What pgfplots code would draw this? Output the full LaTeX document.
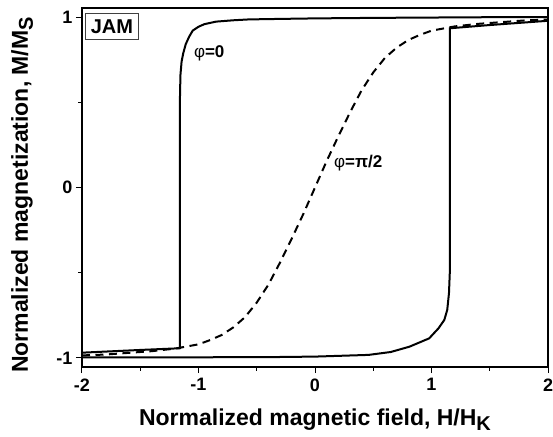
\documentclass[border=0pt]{standalone}
\usepackage{pgfplots}
\pgfplotsset{compat=1.18}
\usepackage{fontspec}
\setmainfont{Liberation Sans}
\begin{document}
\begin{tikzpicture}
\begin{axis}[name=ax, scale only axis, width=466pt, height=359pt,
 xmin=-2, xmax=2, ymin=-1.053, ymax=1.053,
 xtick={-2,-1,0,1,2}, xticklabels={-2,-1,0,1,2},
 ytick={-1,0,1}, yticklabels={-1,0,1},
 minor xtick={-1.5,-0.5,0.5,1.5}, minor ytick={-0.5,0.5},
 tick align=outside, xtick pos=bottom, ytick pos=left,
 major tick length=6pt, minor tick length=3.5pt,
 every tick/.style={black, line width=1pt},
 axis line style={line width=1.2pt},
 ticklabel style={font=\fontsize{18}{20}\selectfont\bfseries},
 xticklabel style={yshift=-2pt},
 xlabel={Normalized magnetic field, H/H\raisebox{-5pt}{\fontsize{20}{22}\selectfont K}},
 ylabel={Normalized magnetization, M/M\raisebox{-5pt}{\fontsize{20}{22}\selectfont S}},
 every axis x label/.style={at={(axis description cs:0.5,-0.1616)}, anchor=base, font=\fontsize{23}{26}\selectfont\bfseries},
 every axis y label/.style={at={(axis description cs:-0.1159,0.479)}, anchor=base, rotate=90, font=\fontsize{23}{26}\selectfont\bfseries},
]
% phi = 0, descending branch
\addplot[black, line width=2pt] coordinates {
(2.0,1.000) (1.5,0.999) (1.0,0.997) (0.5,0.995) (0.0,0.992) (-0.3,0.989)
(-0.567,0.986) (-0.7,0.981) (-0.85,0.973) (-0.95,0.958) (-1.0,0.943)
(-1.05,0.92) (-1.08,0.885) (-1.11,0.84) (-1.13,0.79) (-1.145,0.74)
(-1.155,0.66) (-1.16,0.5) (-1.16,-0.943) (-1.5,-0.953) (-2.0,-0.969)};
% phi = 0, ascending branch
\addplot[black, line width=2pt] coordinates {
(-2.0,-0.997) (-1.0,-0.996) (-0.39,-0.995) (0.0,-0.992) (0.46,-0.982)
(0.65,-0.965) (0.81,-0.934) (0.98,-0.885) (1.06,-0.826) (1.11,-0.777)
(1.135,-0.718) (1.15,-0.62) (1.157,-0.5) (1.157,0.934) (1.5,0.953) (2.0,0.978)};
% phi = pi/2
\addplot[black, line width=2pt, dash pattern=on 8pt off 5.5pt] coordinates {
(-2.0,-0.985) (-1.8,-0.98) (-1.6,-0.97) (-1.4,-0.96) (-1.2,-0.945)
(-1.0,-0.92) (-0.9,-0.895) (-0.8,-0.865) (-0.7,-0.82) (-0.6,-0.76)
(-0.5,-0.675) (-0.4,-0.57) (-0.3,-0.44) (-0.2,-0.30) (-0.1,-0.155)
(0,0) (0.1,0.155) (0.2,0.30) (0.3,0.44) (0.4,0.57) (0.5,0.675)
(0.6,0.76) (0.7,0.82) (0.8,0.865) (0.9,0.895) (1.0,0.92) (1.2,0.945)
(1.4,0.96) (1.6,0.97) (1.8,0.98) (2.0,0.985)};
\node[anchor=base west, font=\fontsize{17}{19}\selectfont, inner sep=0pt] at (axis cs:-1.04,0.765) {φ\textbf{=0}};
\node[anchor=base west, font=\fontsize{17}{19}\selectfont, inner sep=0pt] at (axis cs:0.163,0.12) {φ\textbf{=π/2}};
\node[anchor=north west, draw=black!75, line width=0.8pt, minimum width=53pt, minimum height=26pt, inner sep=0pt, font=\fontsize{20}{22}\selectfont\bfseries, fill=white] at (axis cs:-1.974,1.023) {JAM};
\end{axis}
\pgfresetboundingbox
\path[use as bounding box] ([shift={(-82pt,-69pt)}]ax.south west) rectangle ([shift={(5pt,8pt)}]ax.north east);
\end{tikzpicture}
\end{document}
